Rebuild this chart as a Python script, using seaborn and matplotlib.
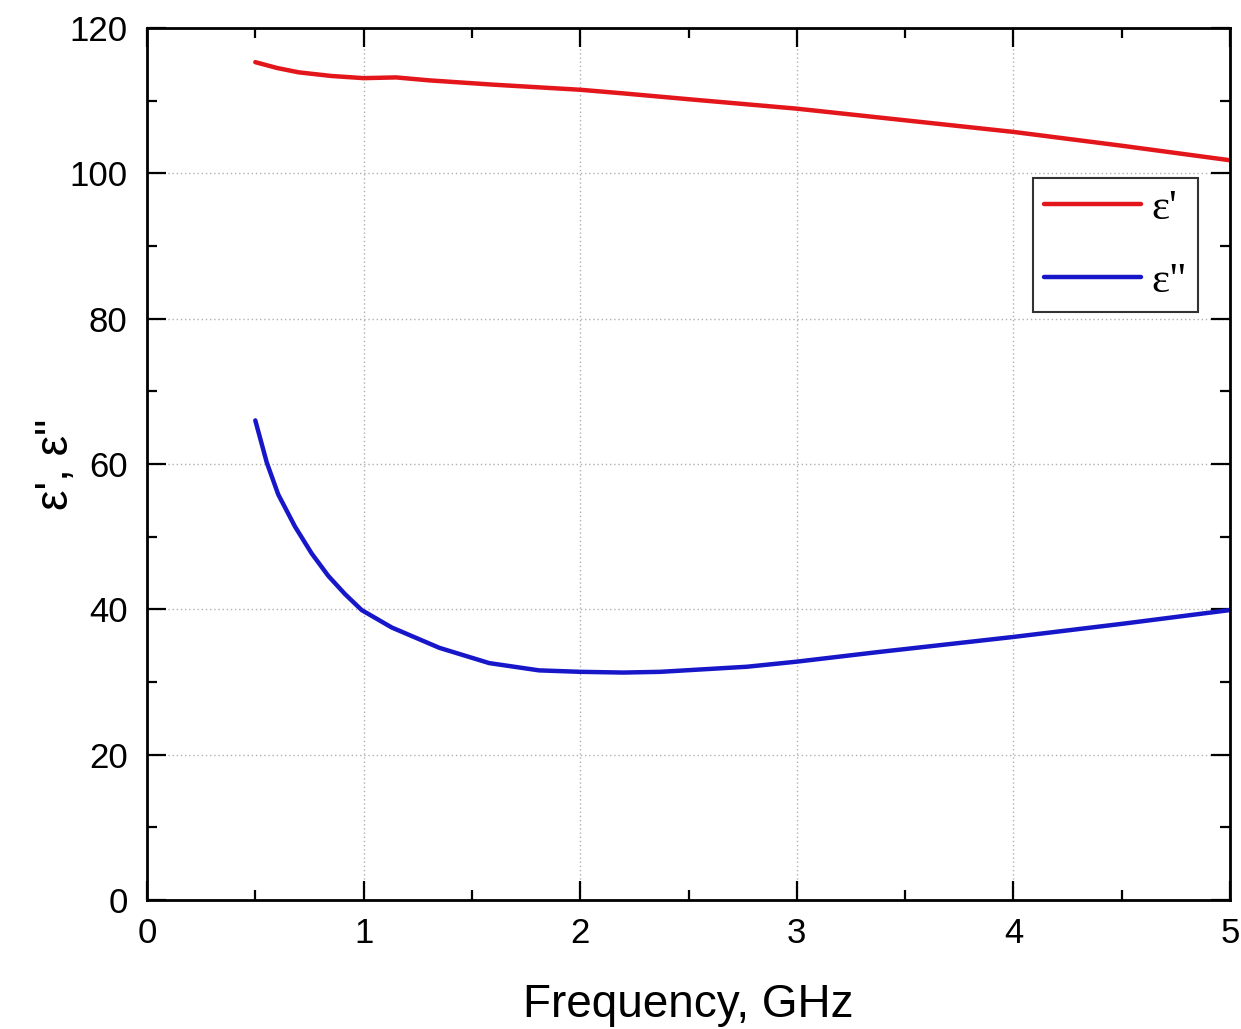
import numpy as np
import pandas as pd
import matplotlib
matplotlib.use("Agg")
import matplotlib.pyplot as plt
import seaborn as sns
from matplotlib.ticker import MultipleLocator

# Real part of permittivity vs frequency (GHz)
freq_real = [0.5, 0.6, 0.7, 0.85, 1.0, 1.15, 1.3, 1.6, 2.0, 2.2, 2.5, 3.0, 3.5, 4.0, 4.5, 5.0]
eps_real = [115.3, 114.5, 113.9, 113.4, 113.1, 113.2, 112.8, 112.2, 111.5, 111.0, 110.2,
            108.9, 107.3, 105.7, 103.8, 101.8]

# Imaginary part of permittivity vs frequency (GHz)
freq_imag = [0.5, 0.553, 0.606, 0.683, 0.76, 0.837, 0.914, 0.991, 1.13, 1.35, 1.58, 1.81,
             2.0, 2.2, 2.37, 2.77, 3.0, 3.37, 4.0, 4.5, 5.0]
eps_imag = [66.0, 60.2, 55.8, 51.4, 47.7, 44.6, 42.1, 39.9, 37.5, 34.7, 32.6, 31.6,
            31.4, 31.3, 31.4, 32.1, 32.8, 34.1, 36.2, 38.0, 39.9]

series_names = ["ε'", 'ε"']
series_colors = ["#e3161b", "#1717c9"]

df = pd.concat([
    pd.DataFrame({"freq": freq_real, "eps": eps_real, "part": series_names[0]}),
    pd.DataFrame({"freq": freq_imag, "eps": eps_imag, "part": series_names[1]}),
], ignore_index=True)

sns.set_theme(style="ticks")
plt.rcParams["font.family"] = ["Liberation Sans", "DejaVu Sans"]
plt.rcParams["text.color"] = "black"
plt.rcParams["axes.labelcolor"] = "black"

fig = plt.figure(figsize=(12.41, 10.29), dpi=100)
ax = fig.add_axes([147 / 1241, 1 - 900 / 1029, (1230 - 147) / 1241, (900 - 28) / 1029])

sns.lineplot(data=df, x="freq", y="eps", hue="part", palette=series_colors,
             hue_order=series_names, linewidth=3.2, sort=False, estimator=None,
             ax=ax, legend=False)

ax.set_xlim(0, 5)
ax.set_ylim(0, 120)
ax.xaxis.set_major_locator(MultipleLocator(1))
ax.xaxis.set_minor_locator(MultipleLocator(0.5))
ax.yaxis.set_major_locator(MultipleLocator(20))
ax.yaxis.set_minor_locator(MultipleLocator(10))

ax.grid(True, which="major", color="#b0b0b0", linestyle=(0, (1, 2)), linewidth=1.0)
ax.tick_params(which="both", direction="in", top=True, right=True, colors="black",
               width=1.6)
ax.tick_params(which="major", length=14, labelsize=25)
ax.tick_params(which="minor", length=7)
ax.tick_params(axis="x", which="major", pad=12)
ax.tick_params(axis="y", which="major", pad=14)
for sp in ax.spines.values():
    sp.set_linewidth(2.0)
    sp.set_color("black")

ax.set_xlabel("Frequency, GHz", fontsize=33, labelpad=24, color="black")
ax.set_ylabel("ε', ε\"", fontsize=33, color="black")
ax.yaxis.set_label_coords(-0.064, 0.5)

handles = [plt.Line2D([], [], color=c, linewidth=3.2) for c in series_colors]
leg = ax.legend(handles, series_names, loc="upper left",
                bbox_to_anchor=((1033 - 147) / 1083, (900 - 178) / 872),
                fontsize=31, handlelength=2.25, handletextpad=0.25,
                labelspacing=0.8, frameon=True, fancybox=False,
                borderpad=0.25, borderaxespad=0, handleheight=0.7)
leg.get_frame().set_edgecolor("black")
leg.get_frame().set_linewidth(1.5)
for t in leg.get_texts():
    t.set_fontfamily(["Liberation Serif", "DejaVu Serif"])
    t.set_color("black")

fig.savefig("out.png", dpi=100)
